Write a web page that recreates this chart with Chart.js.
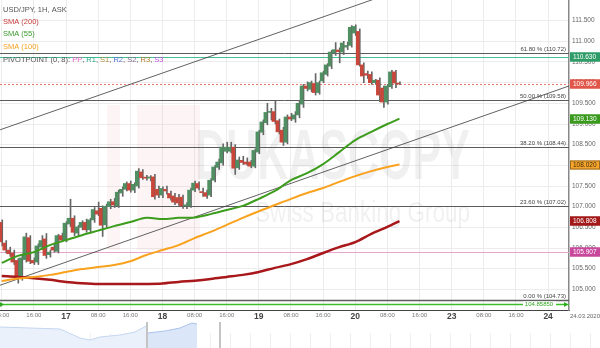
<!DOCTYPE html>
<html lang="en">
<head>
<meta charset="UTF-8">
<title>USD/JPY, 1H, ASK</title>
<script src="https://cdn.jsdelivr.net/npm/chart.js@4.4.1/dist/chart.umd.min.js"></script>
<style>
  html, body { margin: 0; padding: 0; background: #fff; }
  #wrap { position: relative; width: 600px; height: 348px; overflow: hidden; }
  #main { position: absolute; left: 0; top: 0; }
  #nav { position: absolute; left: 0; top: 322px; }
</style>
</head>
<body>
<div id="wrap">
  <canvas id="main" width="600" height="322"></canvas>
  <canvas id="nav" width="600" height="26"></canvas>
</div>
<script>
// hourly candles from 16.03 08:00 (hour 8) to 20.03 11:00, weekend removed
const firstHour = 8;
const open = [106.62,106.12,105.95,105.88,105.70,105.28,105.72,106.25,105.70,105.66,
  106.02,106.22,105.84,106.02,105.92,106.30,106.20,106.58,106.72,106.36,
  106.50,106.62,106.44,106.68,106.90,106.96,106.56,107.00,107.12,107.02,
  107.33,107.42,107.56,107.40,107.50,107.84,107.70,107.69,107.72,107.42,
  107.28,107.42,107.32,107.26,107.22,107.23,107.02,107.02,107.40,107.56,
  107.36,107.34,107.28,107.64,107.95,108.06,108.34,108.34,108.44,107.94,
  108.12,108.08,108.08,107.98,108.32,108.80,109.03,109.28,109.30,109.08,
  108.85,108.56,109.17,109.12,109.22,109.48,109.92,109.84,109.98,109.76,
  110.04,110.20,110.40,110.72,110.79,110.74,110.86,110.90,111.20,111.24,
  110.43,110.22,110.20,110.00,110.06,109.87,109.53,109.90,110.26,109.99];
const high = [106.68,106.18,106.02,105.95,105.74,105.82,106.36,106.30,105.76,106.10,
  106.30,106.35,105.95,106.12,106.33,106.36,106.64,107.18,106.78,106.55,
  106.66,106.70,106.72,106.98,107.11,107.02,107.06,107.18,107.20,107.40,
  107.48,107.60,107.62,107.58,107.92,107.90,107.76,107.75,107.78,107.50,
  107.48,107.50,107.38,107.32,107.30,107.28,107.10,107.45,107.62,107.60,
  107.45,107.40,107.68,108.00,108.15,108.52,108.56,108.56,108.50,108.20,
  108.22,108.18,108.12,108.40,108.85,109.10,109.50,109.38,109.55,109.12,
  108.92,109.22,109.26,109.30,109.55,109.96,110.02,110.04,110.22,110.04,
  110.28,110.46,110.78,110.97,110.84,111.00,110.98,111.38,111.40,111.30,
  110.48,110.28,110.26,110.08,110.12,109.92,109.96,110.30,110.30,110.02];
const low = [106.05,105.88,105.80,105.60,105.15,105.22,105.66,105.62,105.60,105.60,
  105.96,105.75,105.78,105.90,105.88,106.15,106.15,106.52,106.30,106.30,
  106.44,106.38,106.38,106.62,106.78,106.28,106.50,106.95,106.98,106.98,
  107.25,107.38,107.35,107.34,107.45,107.66,107.64,107.62,107.18,107.22,
  107.22,107.30,107.16,107.05,107.03,106.96,106.95,106.98,107.36,107.40,
  107.25,107.20,107.24,107.60,107.90,108.00,108.30,108.30,107.78,107.90,
  108.02,108.00,107.94,107.94,108.28,108.74,108.98,109.10,109.00,108.76,
  108.48,108.52,109.08,109.04,109.15,109.40,109.80,109.78,109.70,109.72,
  110.00,110.16,110.34,110.66,110.48,110.68,110.80,110.86,111.14,110.40,
  110.00,110.10,109.96,109.96,109.54,109.40,109.48,109.86,109.88,109.95];
const close = [106.15,105.95,105.86,105.66,105.25,105.76,106.27,105.68,105.64,106.05,
  106.18,105.82,105.90,105.95,106.30,106.19,106.60,106.72,106.38,106.51,
  106.62,106.44,106.68,106.93,106.82,106.55,107.01,107.12,107.04,107.35,
  107.42,107.56,107.40,107.54,107.86,107.70,107.69,107.72,107.24,107.28,
  107.44,107.38,107.21,107.11,107.09,107.02,107.04,107.40,107.57,107.45,
  107.34,107.25,107.64,107.96,108.08,108.44,108.44,108.44,107.93,108.13,
  108.07,108.03,107.98,108.36,108.81,109.05,109.28,109.30,109.06,108.81,
  108.56,109.17,109.12,109.22,109.50,109.92,109.86,110.00,109.76,110.00,
  110.24,110.43,110.74,110.80,110.75,110.96,110.90,111.34,111.36,110.43,
  110.16,110.18,110.00,110.06,109.70,109.53,109.92,110.26,109.99,109.966];

// moving averages, read every 4 hours
const smaHours = [8,12,16,20,24,28,32,36,40,44,48,52,56,60,64,68,72,76,80,84,88,92,96,100,104,107];
const sma55 = [105.64,105.81,105.90,106.07,106.19,106.31,106.42,106.53,106.63,106.73,106.70,106.73,106.74,
  106.82,106.92,107.02,107.19,107.38,107.64,107.81,108.03,108.32,108.61,108.81,109.00,109.13];
const sma100 = [105.20,105.26,105.30,105.35,105.42,105.49,105.54,105.59,105.68,105.83,105.95,106.07,106.24,
  106.39,106.56,106.73,106.89,107.04,107.19,107.33,107.45,107.60,107.74,107.86,107.96,108.02];
const sma200 = [105.32,105.30,105.27,105.23,105.18,105.15,105.13,105.13,105.13,105.13,105.14,105.18,105.21,
  105.25,105.30,105.35,105.42,105.52,105.61,105.73,105.88,106.02,106.14,106.34,106.51,106.65];

// trend channel end points
const channelHours = [7.6, 149.2];
const channelUpper = [108.86, 113.67];
const channelLower = [105.10, 109.92];

// fibonacci retracement
const fibLevels = [110.72, 109.58, 108.44, 107.02, 104.73];
const fibLabels = ['61.80 % (110.72)', '50.00 % (109.58)', '38.20 % (108.44)', '23.60 % (107.02)', '0.00 % (104.73)'];

// pivot / price lines
const pivotR1 = 110.630;
const pivotPP = 105.907;
const lastPrice = 109.966;
const alertLevel = 104.64;
const alertText = '104.85850';

// axes
const yTicks = [105, 105.5, 106, 106.5, 107, 107.5, 108, 108.5, 109, 109.5, 110, 110.5, 111, 111.5];
const xTickHours = [8,16,24,32,40,48,56,64,72,80,88,96,104,112,120,128,136,144];
const xTickLabels = ['08:00','16:00','17','08:00','16:00','18','08:00','16:00','19','08:00','16:00','20',
  '08:00','16:00','23','08:00','16:00','24'];
const dateLabel = '24.03.2020';

// navigator strip
const navAX = [0, 30, 60, 80, 90, 100, 120, 135, 146];
const navA = [21, 20, 19, 10, 8, 11, 13, 16, 22];
const navBX = [148, 165, 180, 192, 197];
const navB = [15, 17, 20, 25, 24];

const FONT = '"Liberation Sans", Arial, sans-serif';
const GREEN = '#4f8f62', RED = '#c9463a';

const hours = open.map((_, i) => firstHour + i);
const wicks = hours.map((h, i) => ({ x: h, y: [low[i], high[i]] }));
const bodies = hours.map((h, i) => ({ x: h, y: [Math.min(open[i], close[i]), Math.max(open[i], close[i])] }));
const bodyColors = open.map((o, i) => close[i] >= o ? GREEN : RED);
const pts = (xs, ys) => xs.map((x, i) => ({ x: x, y: ys[i] }));

const levels = {
  id: 'levels',
  beforeDatasetsDraw(chart) {
    const { ctx, chartArea: a, scales: { y } } = chart;
    ctx.save();
    // watermark
    ctx.fillStyle = 'rgba(220,60,60,0.05)';
    ctx.fillRect(107, 105, 13, 145);
    ctx.fillRect(137, 105, 63, 145);
    ctx.fillStyle = 'rgba(0,0,0,0.06)';
    ctx.font = 'bold 70px ' + FONT;
    const w = ctx.measureText('DUKASCOPY').width;
    ctx.save();
    ctx.translate(195, 179);
    ctx.scale(275 / w, 1);
    ctx.fillText('DUKASCOPY', 0, 0);
    ctx.restore();
    ctx.font = '30px ' + FONT;
    const w2 = ctx.measureText('Swiss Banking Group').width;
    ctx.save();
    ctx.translate(255, 222);
    ctx.scale(215 / w2, 1);
    ctx.fillText('Swiss Banking Group', 0, 0);
    ctx.restore();

    const hline = (v, color, width, dash) => {
      const py = Math.round(y.getPixelForValue(v)) + 0.5;
      ctx.beginPath();
      ctx.setLineDash(dash || []);
      ctx.strokeStyle = color;
      ctx.lineWidth = width;
      ctx.moveTo(a.left, py);
      ctx.lineTo(a.right, py);
      ctx.stroke();
      ctx.setLineDash([]);
      return py;
    };
    hline(pivotPP, '#e7a6cf', 1);
    hline(pivotR1, '#45be93', 1);
    hline(lastPrice, '#ec7a70', 1, [2, 2]);
    ctx.font = '6px ' + FONT;
    ctx.textAlign = 'right';
    ctx.textBaseline = 'bottom';
    fibLevels.forEach((v, i) => {
      const py = hline(v, '#5c5c5c', i === fibLevels.length - 1 ? 1.5 : 1);
      ctx.fillStyle = '#444';
      ctx.fillText(fibLabels[i], a.right - 3, py - 1);
    });
    const ay = hline(alertLevel, '#3cbf2a', 1.5);
    ctx.fillStyle = '#fff';
    ctx.fillRect(523, ay - 3, 33, 6);
    ctx.fillStyle = '#2fa81f';
    ctx.textAlign = 'center';
    ctx.textBaseline = 'middle';
    ctx.fillText(alertText, 539, ay);
    ctx.beginPath();
    ctx.moveTo(a.right - 1, ay); ctx.lineTo(a.right - 5, ay - 2.5); ctx.lineTo(a.right - 5, ay + 2.5);
    ctx.closePath(); ctx.fill();
    ctx.beginPath();
    ctx.moveTo(a.left + 4, ay); ctx.lineTo(a.left, ay - 2.5); ctx.lineTo(a.left, ay + 2.5);
    ctx.closePath(); ctx.fill();
    ctx.restore();
  },
  afterDraw(chart) {
    const { ctx, chartArea: a, scales: { y } } = chart;
    ctx.save();
    // legend
    ctx.font = '7.5px ' + FONT;
    ctx.textAlign = 'left';
    ctx.textBaseline = 'middle';
    const rows = [['USD/JPY, 1H, ASK', '#555'], ['SMA (200)', '#c83a3a'], ['SMA (55)', '#3a9a2a'], ['SMA (100)', '#f5a020']];
    rows.forEach((r, i) => { ctx.fillStyle = r[1]; ctx.fillText(r[0], 3, 10 + i * 12.2); });
    const piv = [['PIVOTPOINT (0, 8): ', '#555'], ['PP', '#e060c0'], [', ', '#555'], ['R1', '#30a888'], [', ', '#555'],
      ['S1', '#b09040'], [', ', '#555'], ['R2', '#5070d0'], [', ', '#555'], ['S2', '#806a90'], [', ', '#555'],
      ['R3', '#b07a30'], [', ', '#555'], ['S3', '#c050e0']];
    let px = 3;
    piv.forEach(p => { ctx.fillStyle = p[1]; ctx.fillText(p[0], px, 60); px += ctx.measureText(p[0]).width; });

    // right axis price boxes
    const boxes = [
      [pivotR1, '110.630', '#2f9c68', '#fff', '#2f9c68'],
      [lastPrice, '109.966', '#e0574a', '#fff', '#e0574a'],
      [sma55[sma55.length - 1], '109.130', '#3a9a1e', '#fff', '#3a9a1e'],
      [sma100[sma100.length - 1], '108.020', '#f7a52a', '#3a2a10', '#9a6a20'],
      [sma200[sma200.length - 1], '106.808', '#a31818', '#fff', '#a31818'],
      [pivotPP, '105.907', '#c8489c', '#fff', '#c8489c']
    ];
    ctx.font = '6.5px ' + FONT;
    boxes.forEach(b => {
      const py = Math.round(y.getPixelForValue(b[0]));
      ctx.fillStyle = b[2];
      ctx.fillRect(a.right + 1, py - 4.5, 30, 9);
      ctx.strokeStyle = b[4];
      ctx.lineWidth = 1;
      ctx.strokeRect(a.right + 1.5, py - 4, 29, 8);
      ctx.fillStyle = b[3];
      ctx.fillText(b[1], a.right + 4, py + 0.5);
    });
    ctx.fillStyle = '#666';
    ctx.font = '6px ' + FONT;
    ctx.fillText(dateLabel, a.right + 1, 316);
    ctx.restore();
  }
};

new Chart(document.getElementById('main'), {
  type: 'bar',
  data: {
    datasets: [
      { type: 'line', data: pts(smaHours, sma55), borderColor: '#3c9c1c', borderWidth: 2, pointRadius: 0, tension: 0.3, order: 1 },
      { type: 'line', data: pts(smaHours, sma100), borderColor: '#f9a21e', borderWidth: 2, pointRadius: 0, tension: 0.3, order: 2 },
      { type: 'line', data: pts(smaHours, sma200), borderColor: '#a8171a', borderWidth: 2.5, pointRadius: 0, tension: 0.3, order: 3 },
      { data: bodies, backgroundColor: bodyColors, barThickness: 3, minBarLength: 1, borderWidth: 0, order: 4 },
      { data: wicks, backgroundColor: '#666', barThickness: 1, borderWidth: 0, order: 5 },
      { type: 'line', data: pts(channelHours, channelUpper), borderColor: '#3a3a3a', borderWidth: 0.8, pointRadius: 0, order: 6 },
      { type: 'line', data: pts(channelHours, channelLower), borderColor: '#3a3a3a', borderWidth: 0.8, pointRadius: 0, order: 7 }
    ]
  },
  options: {
    responsive: false,
    animation: false,
    layout: { padding: 0 },
    plugins: { legend: { display: false }, tooltip: { enabled: false } },
    scales: {
      x: {
        type: 'linear', min: 7.57, max: 149.2, offset: false,
        grid: { color: '#ececec', drawTicks: false, offset: false },
        border: { color: '#444', width: 1 },
        afterBuildTicks: s => { s.ticks = xTickHours.map(v => ({ value: v })); },
        afterFit: s => { s.height = 12; s.paddingLeft = 0; s.paddingRight = 0; },
        ticks: {
          autoSkip: false, maxRotation: 0, padding: 2,
          callback: (v, i) => xTickLabels[i],
          font: c => (xTickLabels[c.index] || '').length <= 2 ? { family: FONT, size: 8.5, weight: 'bold' } : { family: FONT, size: 6 },
          color: c => (xTickLabels[c.index] || '').length <= 2 ? '#444' : '#777'
        }
      },
      y: {
        position: 'right', min: 104.5, max: 112,
        grid: { color: '#ececec', drawTicks: false },
        border: { color: '#888', width: 1.5 },
        afterBuildTicks: s => { s.ticks = yTicks.map(v => ({ value: v })); },
        afterFit: s => { s.width = 31; s.paddingTop = 0; s.paddingBottom = 0; },
        ticks: { padding: 3, color: '#666', font: { family: FONT, size: 6.5 }, callback: v => Number(v).toFixed(3) }
      }
    }
  },
  plugins: [levels]
});

const navDecor = {
  id: 'navDecor',
  beforeDatasetsDraw(chart) {
    const ctx = chart.ctx;
    ctx.save();
    ctx.strokeStyle = '#efefef';
    ctx.lineWidth = 1;
    for (let x = 10.5; x < 600; x += 20) { ctx.beginPath(); ctx.moveTo(x, 11); ctx.lineTo(x, 26); ctx.stroke(); }
    ctx.restore();
  },
  afterDatasetsDraw(chart) {
    const ctx = chart.ctx;
    ctx.save();
    ctx.fillStyle = '#c4c4c4';
    ctx.fillRect(146, 0, 2, 26);
    ctx.fillRect(219, 0, 2, 26);
    ctx.restore();
  }
};

new Chart(document.getElementById('nav'), {
  type: 'line',
  data: {
    datasets: [
      { data: pts(navAX, navA), fill: 'origin', backgroundColor: '#eaf1fb', borderColor: '#c5d6f0', borderWidth: 1, pointRadius: 0 },
      { data: pts(navBX, navB), fill: 'origin', backgroundColor: '#dbe6f8', borderColor: '#a9c2ec', borderWidth: 1, pointRadius: 0 }
    ]
  },
  options: {
    responsive: false, animation: false, layout: { padding: 0 },
    plugins: { legend: { display: false }, tooltip: { enabled: false } },
    scales: { x: { type: 'linear', min: 0, max: 600, display: false }, y: { min: 0, max: 26, display: false } }
  },
  plugins: [navDecor]
});
</script>
</body>
</html>
